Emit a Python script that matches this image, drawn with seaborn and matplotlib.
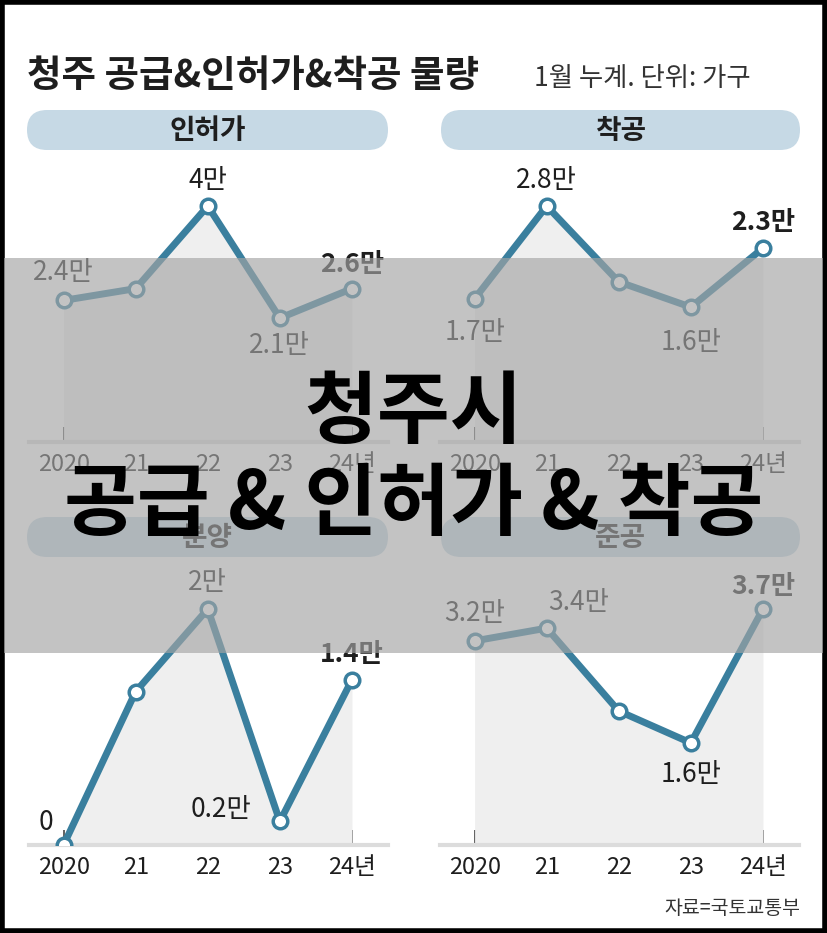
import matplotlib
matplotlib.use("Agg")
import matplotlib.pyplot as plt
import seaborn as sns
import pandas as pd
from matplotlib.patches import FancyBboxPatch, Rectangle

# data (unit: 만 가구, 1월 누계)
years = ["2020", "21", "22", "23", "24년"]
permit = [2.4, 2.6, 4.0, 2.1, 2.6]
start = [1.7, 2.8, 1.9, 1.6, 2.3]
presale = [0.0, 1.3, 2.0, 0.2, 1.4]
complete = [3.2, 3.4, 2.1, 1.6, 3.7]

permit_labels = ["2.4만", None, "4만", "2.1만", "2.6만"]
start_labels = ["1.7만", "2.8만", None, "1.6만", "2.3만"]
presale_labels = ["0", None, "2만", "0.2만", "1.4만"]
complete_labels = ["3.2만", "3.4만", None, "1.6만", "3.7만"]

panel_titles = ["인허가", "착공", "분양", "준공"]

W, H = 827, 933
LINE = "#3a7f9e"
FILL = "#efefef"
PILL = "#c6d9e5"
TXT = "#1e1e1e"

sns.set_theme(style="white")
plt.rcParams["font.family"] = ["Noto Sans CJK KR", "DejaVu Sans"]

fig = plt.figure(figsize=(W / 100, H / 100), dpi=100)
fig.patch.set_facecolor("white")

# background layer in pixel coords
bg = fig.add_axes([0, 0, 1, 1], zorder=-1)
bg.set_xlim(0, W)
bg.set_ylim(H, 0)
bg.axis("off")


def px_axes(left, top, width, height, **kw):
    return fig.add_axes([left / W, 1 - (top + height) / H, width / W, height / H], **kw)


bg.text(27, 76, "청주 공급&인허가&착공 물량", fontsize=27, fontweight="bold",
        color=TXT, ha="left", va="center")
bg.text(534, 78, "1월 누계. 단위: 가구", fontsize=19, color="#333333",
        ha="left", va="center")
bg.text(800, 908, "자료=국토교통부", fontsize=14, color="#333333",
        ha="right", va="center")

# pills
pill_boxes = [(27, 110, 361), (441, 110, 359), (27, 517, 361), (441, 517, 359)]
for (px, py, pw), name in zip(pill_boxes, panel_titles):
    bg.add_patch(FancyBboxPatch((px, py), pw, 40,
                                boxstyle="round,pad=0,rounding_size=20",
                                fc=PILL, ec="none", mutation_aspect=1))
    bg.text(px + pw / 2, py + 21, name, fontsize=20, fontweight="bold",
            color=TXT, ha="center", va="center")

# frame
bg.add_patch(Rectangle((2, 2), W - 4, H - 4, fill=False, ec="black", lw=4))

# panels: (values, labels, left px, baseline px, label offsets in px (dx, dy down))
panels = [
    (permit, permit_labels, 29, 442,
     [(0, -28), None, (0, -26), (0, 27), (0, -24)]),
    (start, start_labels, 440, 442,
     [(0, 34), (0, -26), None, (0, 35), (0, -26)]),
    (presale, presale_labels, 29, 845,
     [(-18, -23), None, (0, -27), (-59, -12), (0, -25)]),
    (complete, complete_labels, 440, 845,
     [(0, -27), (32, -26), None, (0, 32), (0, -22)]),
]

AX_W = 359
AX_H = 270
for vals, labs, left, base, offs in panels:
    ax = px_axes(left, base - AX_H, AX_W, AX_H)
    ax.patch.set_alpha(0)
    df = pd.DataFrame({"x": range(len(years)), "y": vals})
    ax.fill_between(df["x"], df["y"], 0, color=FILL, lw=0, zorder=1)
    sns.lineplot(data=df, x="x", y="y", ax=ax, color=LINE, lw=5,
                 solid_joinstyle="miter", zorder=3)
    ax.scatter(df["x"], df["y"], s=110, facecolor="white", edgecolor=LINE,
               linewidth=2.5, zorder=4)
    ax.set_xlim(-0.48, 4.5)
    ax.set_ylim(0, max(vals) * AX_H / 236)
    for i, (lab, off) in enumerate(zip(labs, offs)):
        if lab is None:
            continue
        ax.annotate(lab, (i, vals[i]), xytext=(off[0], -off[1]),
                    textcoords="offset pixels", ha="center", va="center",
                    fontsize=19, color=TXT,
                    fontweight="bold" if i == len(vals) - 1 else "normal",
                    zorder=5)
    ax.set_xticks(range(len(years)))
    ax.set_xticklabels(years, fontsize=17, color=TXT)
    ax.set_yticks([])
    ax.set_xlabel("")
    ax.set_ylabel("")
    for s in ["top", "right", "left"]:
        ax.spines[s].set_visible(False)
    ax.spines["bottom"].set_color("#dcdcdc")
    ax.spines["bottom"].set_linewidth(3)
    ax.tick_params(axis="x", direction="in", length=11, width=1.3,
                   color="#555555", pad=8, bottom=True)

# translucent banner on top
ov = fig.add_axes([0, 0, 1, 1], zorder=10)
ov.set_xlim(0, W)
ov.set_ylim(H, 0)
ov.axis("off")
ov.patch.set_alpha(0)
ov.add_patch(Rectangle((4, 258), W - 8, 395, fc="#a4a4a4", ec="none", alpha=0.65))
ov.text(W / 2, 413, "청주시", fontsize=57, fontweight="bold", color="black",
        ha="center", va="center")
ov.text(W / 2, 506, "공급 & 인허가 & 착공", fontsize=57, fontweight="bold",
        color="black", ha="center", va="center")

fig.savefig("out.png", dpi=100)
